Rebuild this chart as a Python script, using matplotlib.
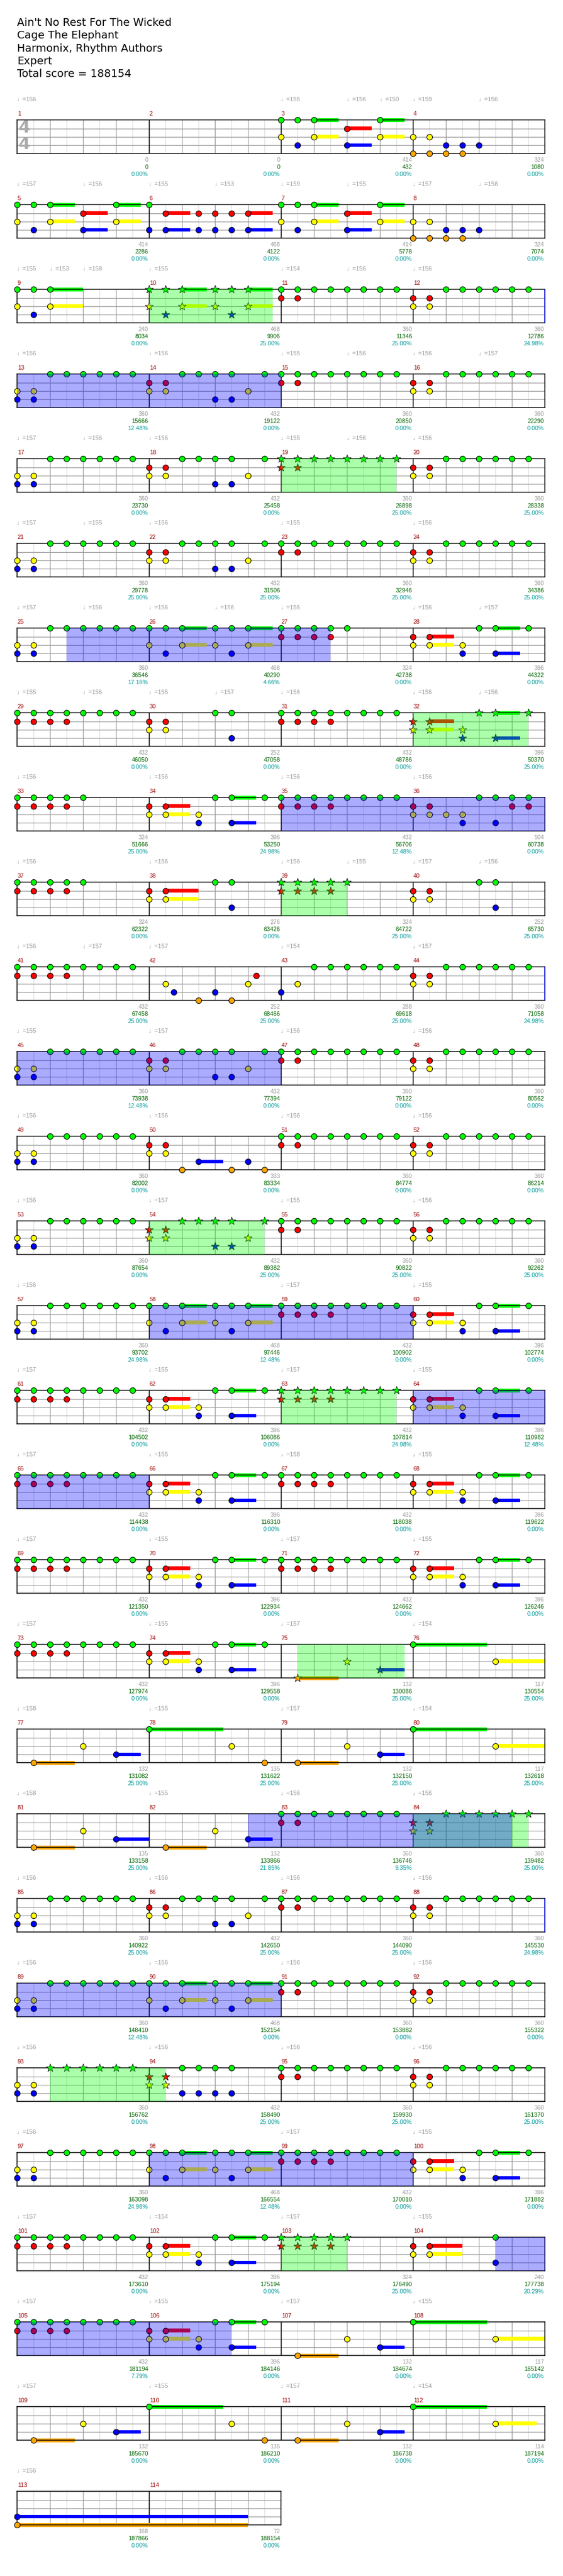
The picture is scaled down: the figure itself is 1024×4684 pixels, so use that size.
import math
import matplotlib.pyplot as plt

# song header
song_title = "Ain't No Rest For The Wicked"
song_artist = "Cage The Elephant"
song_charters = "Harmonix, Rhythm Authors"
song_difficulty = "Expert"
total_score = 188154

# note riffs: "eighth:lanes" or "eighth:lanes/sustain_in_eighths"
riffs = {
    '-': '',
    'A': '0:GY 1:GB 2:GY/1.5 4:RB/1.5 6:GY/1.5',
    'B': '0:YO 1:YO 2:BO 3:BO 4:B',
    'C': '0:GB 1:RB/1.5 3:RB 4:RB 5:RB 6:RB/1.5',
    'D': '0:GY 1:GB 2:GY/2',
    'E': '0:GY 1:GB 2:GY/1.5 4:GY 5:GB 6:GY/1.5',
    'F': '0:GR 1:GR 2:G 3:G 4:G 5:G 6:G 7:G',
    'H': '0:RY 1:RY 2:G 3:G 4:G 5:G 6:G 7:G',
    'I': '0:YB 1:YB 2:G 3:G 4:G 5:G 6:G 7:G',
    'J': '0:RY 1:RY 2:G 3:G 4:GB 5:GB 6:Y 7:G',
    'K': '0:GR 1:GR 2:GR 3:GR 4:G',
    'L': '0:RY 1:RY/1.5 3:YB 4:G 5:GB/1.5 7:G',
    'M': '0:GR 1:GR 2:GR 3:GR 4:G 5:G 6:G 7:G',
    'N': '0:RY 1:RY 4:G 5:GB',
    'Q': '0:RY 1:RY 2:Y 3:YB 4:G 5:GB 6:GR 7:GR',
    'R': '0:RY 1:RY/2 4:G 5:GB',
    'S': '1:Y 1.5:B 3:O 4:B 5:O 6:Y 6.5:R',
    'T': '0:B 1:Y 2:G 3:G 4:G 5:G 6:G 7:G',
    'U': '0:RY 1:RY 2:O 3:B/1.5 5:O 6:B 7:O',
    'V': '1:O/2.5 4:Y 6:B/1.5',
    'W': '0:G/4.5 5:Y/3',
    'X': '0:G/4.5 5:Y 7:O',
    'Y': '1:O/2.5 4:Y 6:B/2',
    'Z': '0:RY 1:RY 2:GB 3:GB 4:GB 5:GB',
    'AA': '0:RY 1:RY/2 5:GB',
    'AB': '0:G/4.5 5:Y/2.5',
    'AC': '0:BO/14',
}

measure_riffs = """
- - A B  A C A B  D E F H  I J F H  I J F H  I J F H  I E K L
M N M L  K L M Q  K R K N  M S T H  I J F H  I U F H  I J F H
I E M L  M L M L  M L M L  M L M L  M L V W  V X V W  Y V F H
I J F H  I E F H  I Z F H  I E M L  M L K AA  M L V W  V X V AB
AC -
""".split()

measure_score = [0, 0, 414, 324, 414, 468, 414, 324, 240, 468, 360, 360,
                 360, 432, 360, 360, 360, 432, 360, 360, 360, 432, 360, 360,
                 360, 468, 324, 396, 432, 252, 432, 396, 324, 396, 432, 504,
                 324, 276, 324, 252, 432, 252, 288, 360, 360, 432, 360, 360,
                 360, 333, 360, 360, 360, 432, 360, 360, 360, 468, 432, 396,
                 432, 396, 432, 396, 432, 396, 432, 396, 432, 396, 432, 396,
                 432, 396, 132, 117, 132, 135, 132, 117, 135, 132, 360, 360,
                 360, 432, 360, 360, 360, 468, 360, 360, 360, 432, 360, 360,
                 360, 468, 432, 396, 432, 396, 324, 240, 432, 396, 132, 117,
                 132, 135, 132, 114, 168, 72]

cumulative_score = [0, 0, 432, 1080, 2286, 4122, 5778, 7074, 8034, 9906, 11346, 12786,
                    15666, 19122, 20850, 22290, 23730, 25458, 26898, 28338, 29778, 31506, 32946, 34386,
                    36546, 40290, 42738, 44322, 46050, 47058, 48786, 50370, 51666, 53250, 56706, 60738,
                    62322, 63426, 64722, 65730, 67458, 68466, 69618, 71058, 73938, 77394, 79122, 80562,
                    82002, 83334, 84774, 86214, 87654, 89382, 90822, 92262, 93702, 97446, 100902, 102774,
                    104502, 106086, 107814, 110982, 114438, 116310, 118038, 119622, 121350, 122934, 124662, 126246,
                    127974, 129558, 130086, 130554, 131082, 131622, 132150, 132618, 133158, 133866, 136746, 139482,
                    140922, 142650, 144090, 145530, 148410, 152154, 153882, 155322, 156762, 158490, 159930, 161370,
                    163098, 166554, 170010, 171882, 173610, 175194, 176490, 177738, 181194, 184146, 184674, 185142,
                    185670, 186210, 186738, 187194, 187866, 188154]

sp_percent = [0, 0, 0, 0, 0, 0, 0, 0, 0, 25.00, 25.00, 24.98,
              12.48, 0, 0, 0, 0, 0, 25.00, 25.00, 25.00, 25.00, 25.00, 25.00,
              17.16, 4.66, 0, 0, 0, 0, 0, 25.00, 25.00, 24.98, 12.48, 0,
              0, 0, 25.00, 25.00, 25.00, 25.00, 25.00, 24.98, 12.48, 0, 0, 0,
              0, 0, 0, 0, 0, 25.00, 25.00, 25.00, 24.98, 12.48, 0, 0,
              0, 0, 24.98, 12.48, 0, 0, 0, 0, 0, 0, 0, 0,
              0, 0, 25.00, 25.00, 25.00, 25.00, 25.00, 25.00, 25.00, 21.85, 9.35, 25.00,
              25.00, 25.00, 25.00, 24.98, 12.48, 0, 0, 0, 0, 25.00, 25.00, 25.00,
              24.98, 12.48, 0, 0, 0, 0, 25.00, 20.29, 7.79, 0, 0, 0,
              0, 0, 0, 0, 0, 0]

tempo_measure = [1, 3, 3, 3, 4, 4, 5, 5, 6, 6, 7, 7, 8, 8,
                 9, 9, 9, 10, 11, 11, 12, 13, 14, 15, 15, 16, 16,
                 17, 17, 18, 19, 19, 20, 21, 21, 22, 23, 24,
                 25, 25, 26, 26, 27, 28, 28, 29, 29, 30, 30, 31, 32, 32,
                 33, 34, 35, 36, 37, 38, 39, 39, 40, 40, 41, 41, 42, 43, 44,
                 45, 46, 47, 48, 49, 50, 51, 52, 53, 54, 55, 56, 57, 59, 60,
                 61, 62, 63, 64, 65, 66, 67, 68, 69, 70, 71, 72, 73, 74, 75, 76,
                 77, 78, 79, 80, 81, 82, 83, 84, 85, 86, 87, 88, 89, 90, 91, 92,
                 93, 94, 95, 96, 97, 99, 100, 101, 102, 103, 104, 105, 106, 107, 108,
                 109, 110, 111, 112, 113]
tempo_beat = [0, 0, 2, 3, 0, 2, 0, 2, 0, 2, 0, 2, 0, 2,
              0, 1, 2, 0, 0, 2, 0, 0, 0, 0, 2, 0, 2,
              0, 2, 0, 0, 2, 0, 0, 2, 0, 0, 0,
              0, 2, 0, 2, 0, 0, 2, 0, 2, 0, 2, 0, 0, 2,
              0, 0, 0, 0, 0, 0, 0, 2, 0, 2, 0, 2, 0, 0, 0,
              0, 0, 0, 0, 0, 0, 0, 0, 0, 0, 0, 0, 0, 0, 0,
              0, 0, 0, 0, 0, 0, 0, 0, 0, 0, 0, 0, 0, 0, 0, 0,
              0, 0, 0, 0, 0, 0, 0, 0, 0, 0, 0, 0, 0, 0, 0, 0,
              0, 0, 0, 0, 0, 0, 0, 0, 0, 0, 0, 0, 0, 0, 0,
              0, 0, 0, 0, 0]
tempo_bpm = [156, 155, 156, 150, 159, 156, 157, 156, 155, 153, 159, 155, 157, 158,
             155, 153, 158, 155, 154, 156, 156, 156, 156, 155, 156, 156, 157,
             157, 156, 156, 155, 156, 156, 157, 155, 156, 155, 156,
             157, 156, 156, 156, 156, 156, 157, 155, 156, 155, 157, 156, 156, 156,
             156, 156, 156, 156, 156, 156, 156, 155, 157, 156, 156, 157, 157, 154, 157,
             155, 157, 156, 156, 156, 156, 156, 156, 156, 157, 155, 156, 156, 157, 155,
             157, 155, 157, 155, 157, 155, 158, 155, 157, 155, 157, 155, 157, 155, 157, 154,
             158, 155, 157, 154, 158, 155, 156, 156, 156, 156, 156, 156, 156, 156, 156, 156,
             156, 156, 156, 156, 156, 157, 155, 157, 154, 157, 155, 157, 155, 157, 155,
             157, 155, 157, 154, 156]

# star power phrases and overdrive activations, in eighth notes from song start
sp_start = [72, 144, 248, 304, 424, 496, 593, 664, 738, 816]
sp_end = [79.5, 151, 255, 308, 431, 503, 599.5, 671, 745, 820]
od_start = [96, 195, 272, 352, 456, 504, 654, 704, 776, 829]
od_end = [112, 211, 288, 368, 472, 520, 670, 720, 792, 845]

lane_of = {'G': 0, 'R': 1, 'Y': 2, 'B': 3, 'O': 4}
lane_colors = ['#00ff00', '#ff0000', '#ffff00', '#0000ff', '#ffa500']

W, H = 1024, 4684
fig = plt.figure(figsize=(W / 100, H / 100), dpi=100)
small = ['Liberation Sans', 'DejaVu Sans']

head = [song_title, song_artist, song_charters, song_difficulty,
        'Total score = ' + str(total_score)]
for i, line in enumerate(head):
    fig.text(31 / W, 1 - (41.7 + 23.2 * i) / H, line, fontsize=14,
             family='DejaVu Sans', va='center', ha='left', color='black')

n_meas = len(measure_riffs)
n_rows = math.ceil(n_meas / 4)
left, top0, pitch, staff_h, mw = 31, 218.3, 154, 61, 240

in_sp = lambda t: any(s <= t <= e for s, e in zip(sp_start, sp_end))

for r in range(n_rows):
    first = r * 4
    nm = min(4, n_meas - first)
    top = top0 + pitch * r
    ax = fig.add_axes([left / W, 1 - (top + staff_h) / H, nm * mw / W, staff_h / H])
    span = nm * 8
    ax.set_xlim(0, span)
    ax.set_ylim(4, 0)
    ax.set_xticks([])
    ax.set_yticks([])
    for sp in ax.spines.values():
        sp.set_color('black')
        sp.set_linewidth(1.1)

    xs = list(range(1, span))
    cols = ['black' if k % 8 == 0 else ('#999999' if k % 2 == 0 else '#dddddd') for k in xs]
    ax.vlines(xs, 0, 4, colors=cols, linewidth=0.9, zorder=1)
    ax.hlines([1, 2, 3], 0, span, colors='#999999', linewidth=0.9, zorder=1)
    ax.vlines([k for k in xs if k % 8 == 0], 0, 4, colors='black', linewidth=1.0, zorder=1.5)

    r0 = first * 8
    for j in range(nm):
        m = first + j
        x0 = j * 8
        ax.text(x0 + 0.03, -0.74, str(m + 1), color='#990000', fontsize=7.8,
                family=small, ha='left', va='center', clip_on=False)
        ax.text(x0 + 7.95, 4.77, str(measure_score[m]), color='#999999', fontsize=7.8,
                family=small, ha='right', va='center', clip_on=False)
        ax.text(x0 + 7.95, 5.62, str(cumulative_score[m]), color='#006400', fontsize=7.8,
                family=small, ha='right', va='center', clip_on=False)
        ax.text(x0 + 7.95, 6.47, '%.2f%%' % sp_percent[m], color='#009999', fontsize=7.8,
                family=small, ha='right', va='center', clip_on=False)

        for tok in riffs[measure_riffs[m]].split():
            pos, rest = tok.split(':')
            pos = float(pos)
            lanes, _, sus = rest.partition('/')
            for ch in lanes:
                ln = lane_of[ch]
                if sus:
                    ax.barh(ln, float(sus), left=x0 + pos, height=0.44,
                            color=lane_colors[ln], zorder=2, clip_on=False)
                star = in_sp(m * 8 + pos)
                ax.scatter(x0 + pos, ln, s=120 if star else 55, marker='*' if star else 'o',
                           c=lane_colors[ln], edgecolors='black',
                           linewidths=0.6 if star else 0.8, zorder=3, clip_on=False)

    for i in range(len(tempo_measure)):
        m = tempo_measure[i] - 1
        if first <= m < first + nm:
            ax.text((m - first) * 8 + tempo_beat[i] * 2, -2.45, '\u2669=%d' % tempo_bpm[i],
                    color='#999999', fontsize=7.8, family=small,
                    ha='left', va='center', clip_on=False)

    r1 = r0 + span
    for s, e in zip(sp_start, sp_end):
        if s < r1 and e > r0:
            ax.axvspan(max(s, r0) - r0, min(e, r1) - r0, color='#00ff00', alpha=0.33, lw=0, zorder=4)
    for s, e in zip(od_start, od_end):
        if s < r1 and e > r0:
            ax.axvspan(max(s, r0) - r0, min(e, r1) - r0, color='#0000ff', alpha=0.33, lw=0, zorder=4)
        elif s == r1:
            ax.axvline(span, color='#0000ff', lw=1.2, zorder=4)

    if r == 0:
        ax.text(0.43, 0.96, '4', fontsize=22, fontweight='bold', color='#aaaaaa',
                ha='center', va='center', zorder=2)
        ax.text(0.43, 2.93, '4', fontsize=22, fontweight='bold', color='#aaaaaa',
                ha='center', va='center', zorder=2)

fig.savefig('out.png', dpi=100, facecolor='white')
